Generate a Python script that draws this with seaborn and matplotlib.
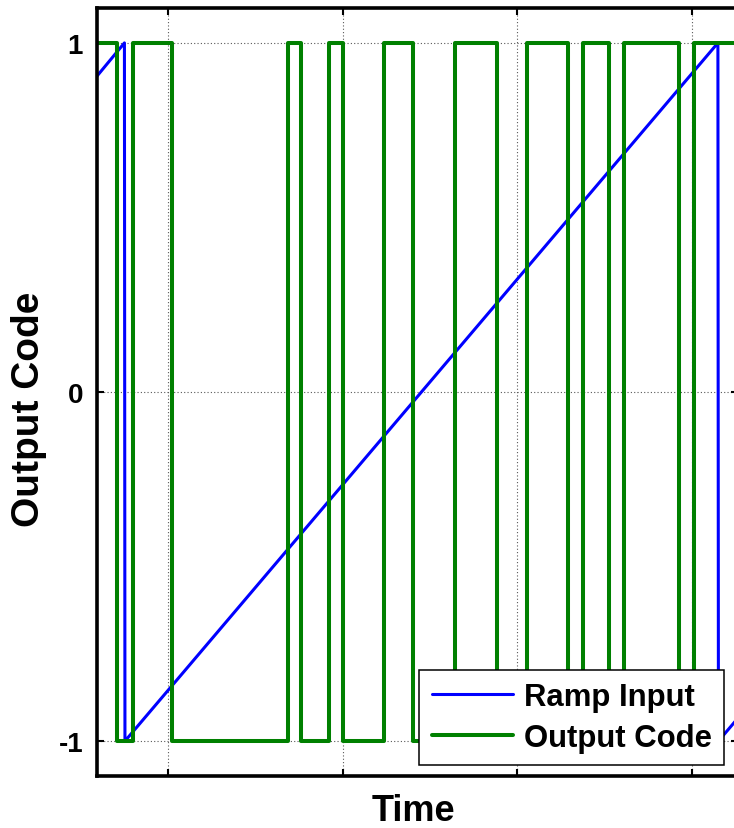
import matplotlib
matplotlib.use("Agg")
import matplotlib.pyplot as plt
import seaborn as sns
import pandas as pd

# ---- data (time in arbitrary units, grid ticks at 1..4) ----
x_ticks = [1, 2, 3, 4]
y_ticks = [-1, 0, 1]
y_tick_labels = ["-1", "0", "1"]

# ramp input (blue) breakpoints
ramp_t = [0.594, 0.751, 0.754, 4.148, 4.151, 4.263]
ramp_v = [0.905, 1.0, -1.0, 1.0, -1.0, -0.934]

# output code (green) transition times and levels (held until next time)
code_t = [0.594, 0.708, 0.800, 1.026, 1.687, 1.761, 1.924, 2.002, 2.239, 2.402,
          2.643, 2.883, 3.058, 3.290, 3.373, 3.527, 3.610, 3.925, 4.011, 4.263]
code_v = [1, -1, 1, -1, 1, -1, 1, -1, 1, -1,
          1, -1, 1, -1, 1, -1, 1, -1, 1, 1]

series_names = ["Ramp Input", "Output Code"]
x_label = "Time"
y_label = "Output Code"

ramp_df = pd.DataFrame({"t": ramp_t, "v": ramp_v})
code_df = pd.DataFrame({"t": code_t, "v": code_v})

sns.set_style("white")
plt.rcParams["font.family"] = ["Liberation Sans", "DejaVu Sans"]
plt.rcParams["font.weight"] = "bold"
for k in ["text.color", "axes.labelcolor", "xtick.color", "ytick.color", "axes.edgecolor"]:
    plt.rcParams[k] = "black"

W, H = 734, 829
fig = plt.figure(figsize=(W / 100, H / 100), dpi=100)
ax_left, ax_right, ax_top, ax_bottom = 97, 738, 9, 777
ax = fig.add_axes([ax_left / W, (H - ax_bottom) / H,
                   (ax_right - ax_left) / W, (ax_bottom - ax_top) / H])

sns.lineplot(data=ramp_df, x="t", y="v", ax=ax, color=(0, 0, 1), lw=2.2,
             estimator=None, sort=False, label=series_names[0])
sns.lineplot(data=code_df, x="t", y="v", ax=ax, color=(0, 0.5, 0), lw=2.9,
             estimator=None, sort=False, drawstyle="steps-post",
             label=series_names[1])

ax.set_xlim(0.594, 4.263)
ax.set_ylim(-1.1, 1.1)
ax.set_xticks(x_ticks)
ax.set_yticks(y_ticks)
ax.set_yticklabels(y_tick_labels)
ax.grid(True, color="0.35", ls=(0, (1, 2)), lw=0.8)
for s in ax.spines.values():
    s.set_visible(True)
    s.set_color("black")
    s.set_linewidth(2.6)

ax.tick_params(axis="both", direction="in", length=5, width=1.5, color="black",
               top=True, right=True, bottom=True, left=True)
ax.tick_params(axis="x", labelbottom=False)
ax.tick_params(axis="y", labelsize=20, pad=10, labelcolor="black")
for lab in ax.get_yticklabels():
    lab.set_fontweight("bold")

ax.set_xlabel(x_label, fontsize=26, fontweight="bold", labelpad=12.5, x=0.493, color="black")
ax.set_ylabel(y_label, fontsize=28, fontweight="bold", labelpad=8, y=0.479, color="black")

leg = ax.legend(loc="lower right", bbox_to_anchor=((724 - ax_left) / (ax_right - ax_left),
                                                   (ax_bottom - 766) / (ax_bottom - ax_top)),
                borderaxespad=0, fancybox=False, framealpha=1, edgecolor="black",
                prop={"size": 22.4, "weight": "bold"}, handlelength=2.6,
                handletextpad=0.35, labelspacing=0.33, borderpad=0.4)
leg.get_frame().set_linewidth(1.1)
for t in leg.get_texts():
    t.set_color("black")

fig.savefig("out.png", dpi=100)
